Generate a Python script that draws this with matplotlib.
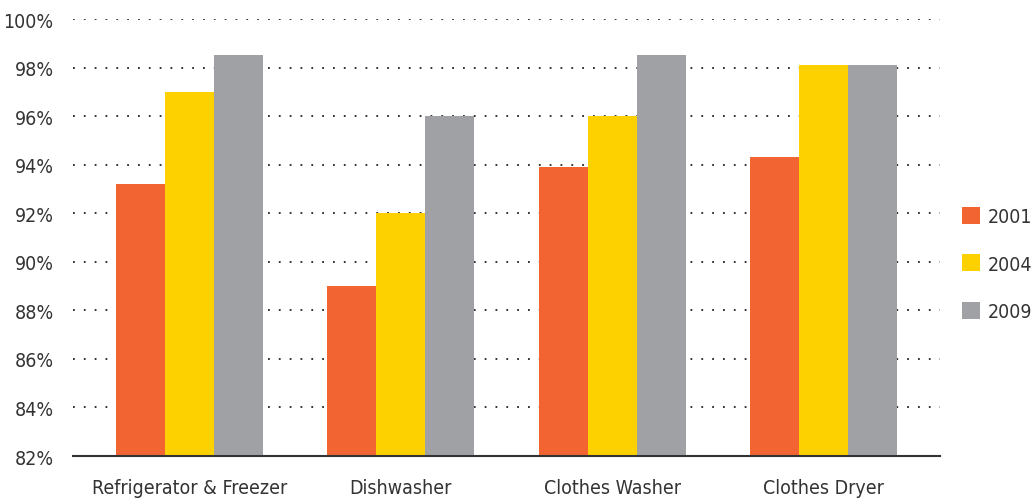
import matplotlib.pyplot as plt
import numpy as np

categories = ['Refrigerator & Freezer', 'Dishwasher', 'Clothes Washer', 'Clothes Dryer']
years = ['2001', '2004', '2009']
values_2001 = [93.2, 89.0, 93.9, 94.3]
values_2004 = [97.0, 92.0, 96.0, 98.1]
values_2009 = [98.5, 96.0, 98.5, 98.1]
colors = ['#F26532', '#FDD000', '#A0A1A5']

plt.rcParams['font.family'] = ['DejaVu Sans']
plt.rcParams['font.stretch'] = 'condensed'

fig = plt.figure(figsize=(10.33, 5.02), dpi=100)
ax = fig.add_axes([0.0707, 0.0896, 0.839, 0.8705])

x = np.arange(len(categories))
width = 0.232
for i, (vals, year) in enumerate(zip([values_2001, values_2004, values_2009], years)):
    ax.bar(x + (i - 1) * width, np.array(vals) - 82, width, bottom=82,
           color=colors[i], label=year, zorder=3)

ax.set_ylim(82, 100)
ax.set_xlim(-0.55, 3.55)
ax.set_yticks(np.arange(82, 101, 2))
ax.set_yticklabels(['{}%'.format(v) for v in range(82, 101, 2)])
ax.set_xticks(x)
ax.set_xticklabels(categories)
ax.tick_params(length=0, labelsize=14, colors='#333333', pad=14)
ax.tick_params(axis='x', pad=16)

# dotted grid lines behind the bars
for v in range(84, 101, 2):
    ax.axhline(v, color='#222222', linestyle=(0, (1, 5)), linewidth=1.3, zorder=1)

for s in ['top', 'right', 'left']:
    ax.spines[s].set_visible(False)
ax.spines['bottom'].set_color('#333333')
ax.spines['bottom'].set_linewidth(1.5)
ax.spines['bottom'].set_zorder(4)

leg = ax.legend(loc='center left', bbox_to_anchor=(1.0254, 0.4394), frameon=False,
                fontsize=14, handlelength=0.95, handleheight=0.95,
                labelspacing=1.45, handletextpad=0.4, borderaxespad=0, borderpad=0)
for t in leg.get_texts():
    t.set_color('#333333')

plt.savefig('out.png', dpi=100)
